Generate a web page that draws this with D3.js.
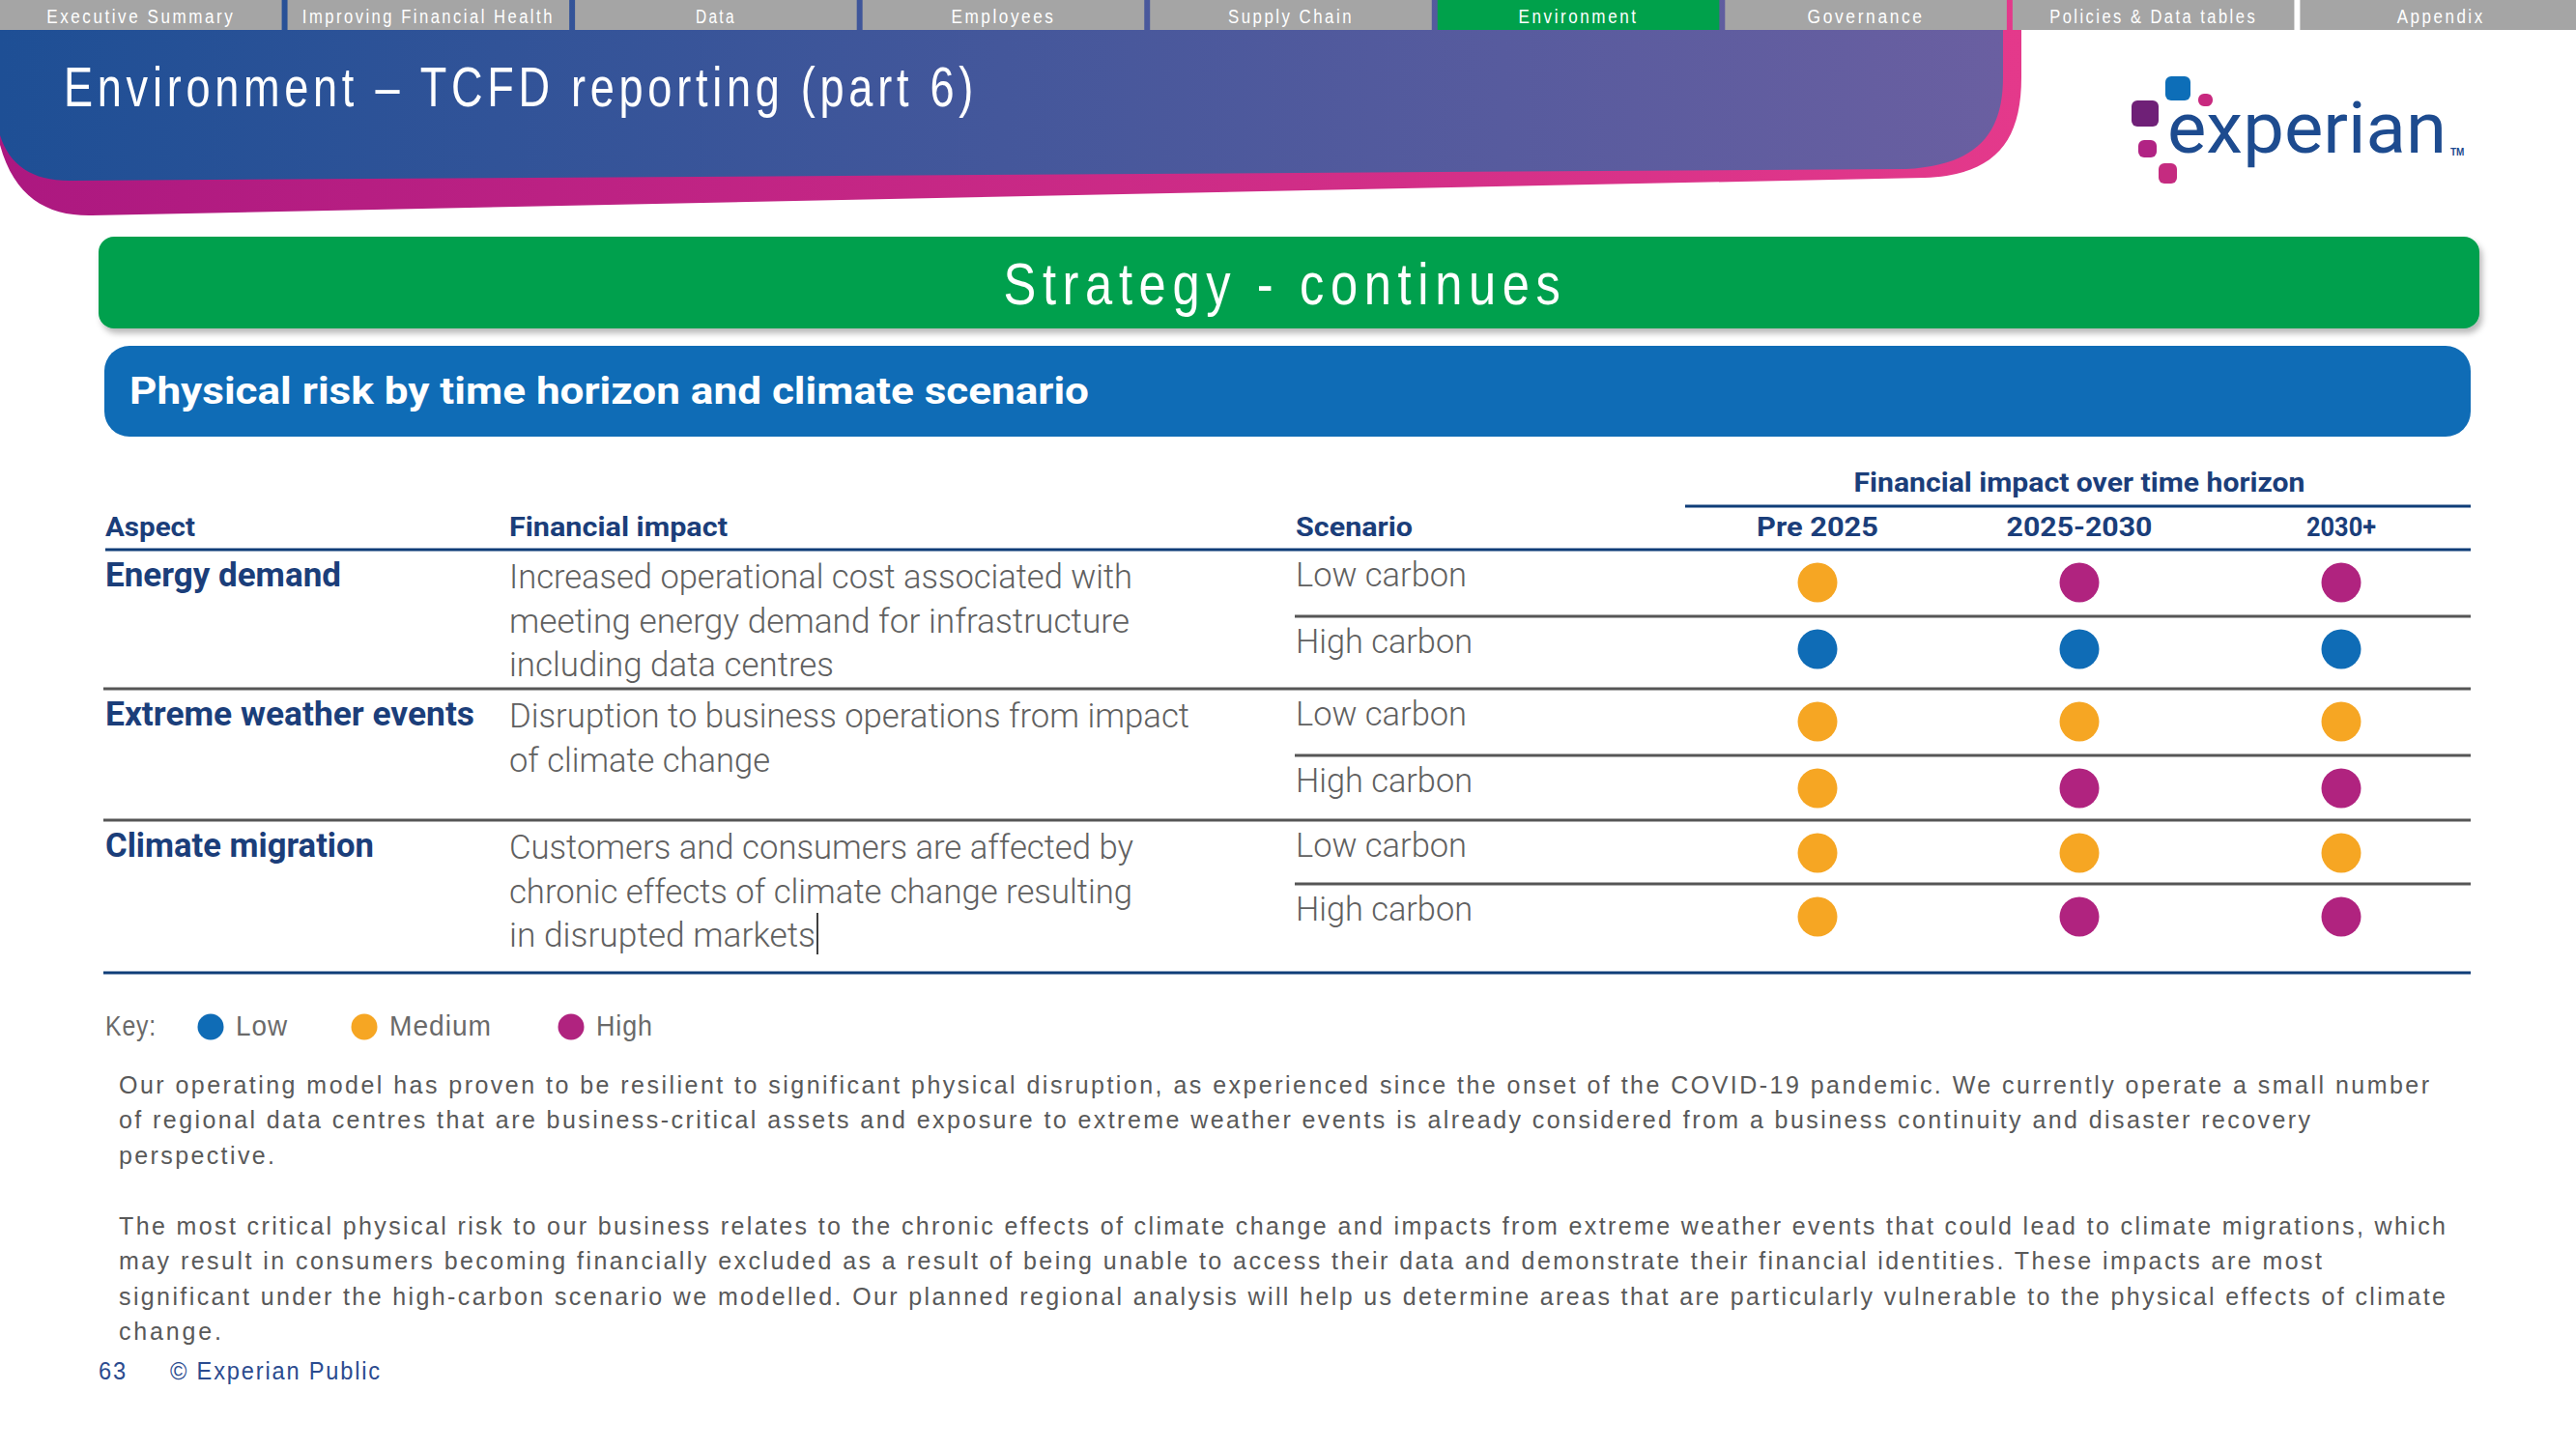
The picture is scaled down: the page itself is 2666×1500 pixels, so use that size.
<!DOCTYPE html>
<html><head><meta charset="utf-8">
<script src="https://cdn.jsdelivr.net/npm/d3@7/dist/d3.min.js"></script>
<style>
body{margin:0;background:#fff;}
svg{display:block;}
</style>
</head><body><div id="chart"></div>
<script>
// ---------------- DATA ----------------
const tabs = ["Executive Summary","Improving Financial Health","Data","Employees","Supply Chain","Environment","Governance","Policies & Data tables","Appendix"];
const activeTab = "Environment";
const pageTitle = "Environment \u2013 TCFD reporting (part 6)";
const sectionTitle = "Strategy - continues";
const tableTitle = "Physical risk by time horizon and climate scenario";
const columnHeaders = ["Aspect","Financial impact","Scenario"];
const horizonTitle = "Financial impact over time horizon";
const horizons = ["Pre 2025","2025-2030","2030+"];
const aspects = ["Energy demand","Extreme weather events","Climate migration"];
const impacts = [
  ["Increased operational cost associated with","meeting energy demand for infrastructure","including data centres"],
  ["Disruption to business operations from impact","of climate change"],
  ["Customers and consumers are affected by","chronic effects of climate change resulting","in disrupted markets"]
];
const scenarios = ["Low carbon","High carbon"];
const levels = ["Low","Medium","High"];
// one row per aspect x scenario, values per horizon
const ratings = [
  ["Medium","High","High"],
  ["Low","Low","Low"],
  ["Medium","Medium","Medium"],
  ["Medium","High","High"],
  ["Medium","Medium","Medium"],
  ["Medium","High","High"]
];
const keyLabel = "Key:";
const paragraphs = [
  ["Our operating model has proven to be resilient to significant physical disruption, as experienced since the onset of the COVID-19 pandemic. We currently operate a small number",
   "of regional data centres that are business-critical assets and exposure to extreme weather events is already considered from a business continuity and disaster recovery",
   "perspective."],
  ["The most critical physical risk to our business relates to the chronic effects of climate change and impacts from extreme weather events that could lead to climate migrations, which",
   "may result in consumers becoming financially excluded as a result of being unable to access their data and demonstrate their financial identities. These impacts are most",
   "significant under the high-carbon scenario we modelled. Our planned regional analysis will help us determine areas that are particularly vulnerable to the physical effects of climate",
   "change."]
];
const pageNumber = "63";
const footerText = "\u00a9 Experian Public";
const logoText = "experian";

// ---------------- STYLE / LAYOUT ----------------
const W = 2666, H = 1500;
const NAVY = "#1b3e7a", GREY_TXT = "#606060", LINE_GREY = "#565656";
const levelColor = d3.scaleOrdinal().domain(levels).range(["#0f6cb6","#f6a623","#b0237f"]);
const textW = { // measured text widths for fitting
  "Executive Summary":195,"Improving Financial Health":261,"Data":42,"Employees":108,"Supply Chain":130,
  "Environment":124,"Governance":121,"Policies & Data tables":215,"Appendix":91,
  "Aspect":93,"Financial impact":226,"Scenario":121,"Financial impact over time horizon":467,
  "Pre 2025":126,"2025-2030":151,"2030+":72,"Low carbon":177,"High carbon":183,
  "Energy demand":244,"Extreme weather events":382,"Climate migration":278,
  "Increased operational cost associated with":645,"meeting energy demand for infrastructure":642,"including data centres":336,
  "Disruption to business operations from impact":704,"of climate change":270,
  "Customers and consumers are affected by":646,"chronic effects of climate change resulting":645,"in disrupted markets":317,
  "Key:":53,"Low":54,"Medium":106,"High":59
};
const paraW = [[2392,2269,162],[2409,2281,2409,107]];

const FONT_SANS = "'Liberation Sans', Arial, sans-serif";
const FONT_TBL = "Roboto, 'Noto Sans', sans-serif";

function fit(sel, w, adj) {
  if (w) sel.attr("textLength", w).attr("lengthAdjust", adj || "spacingAndGlyphs");
  return sel;
}

const svg = d3.select("#chart").append("svg").attr("width", W).attr("height", H).attr("viewBox",[0,0,W,H]);
const defs = svg.append("defs");
const gBlue = defs.append("linearGradient").attr("id","gBlue").attr("x1","0").attr("x2","1").attr("y1","0").attr("y2","0");
gBlue.append("stop").attr("offset","0").attr("stop-color","#1e4f95");
gBlue.append("stop").attr("offset","1").attr("stop-color","#6a5fa1");
const gPink = defs.append("linearGradient").attr("id","gPink").attr("x1","0").attr("x2","1").attr("y1","0").attr("y2","0");
gPink.append("stop").attr("offset","0").attr("stop-color","#ac1880");
gPink.append("stop").attr("offset","1").attr("stop-color","#e4398b");
const sh = defs.append("filter").attr("id","shadow").attr("x","-5%").attr("y","-20%").attr("width","110%").attr("height","150%");
sh.append("feDropShadow").attr("dx",3).attr("dy",5).attr("stdDeviation",3).attr("flood-color","#000").attr("flood-opacity",0.28);

// header shapes
svg.append("path").attr("fill","url(#gPink)")
  .attr("d","M0,0 L2092,0 L2092,80 C2092,150 2062,181 1992,184 L95,223 C50,224 15,205 0,150 Z");
svg.append("path").attr("fill","url(#gBlue)")
  .attr("d","M0,0 L2073,0 L2073,80 C2073,140 2045,171 1972,175 L75,187 C35,188 10,172 0,140 Z");

// tabs
const tabX = d3.scaleBand().domain(tabs).range([0, W + 6]).paddingInner(0.02);
const tabG = svg.append("g").selectAll("g").data(tabs).join("g")
  .attr("transform", d => `translate(${tabX(d)},0)`);
tabG.append("rect").attr("width", tabX.bandwidth()).attr("height", 31)
  .attr("fill", d => d === activeTab ? "#00a14b" : "#a5a5a5");
tabG.append("text").attr("x", tabX.bandwidth()/2).attr("y", 24).attr("text-anchor","middle")
  .attr("fill","#fff").style("font-family", FONT_SANS).style("font-size","20px").style("letter-spacing","3px")
  .text(d => d).each(function(d){ fit(d3.select(this), textW[d]); });

// page title
fit(svg.append("text").attr("x",66).attr("y",110).attr("fill","#fff")
  .style("font-family", FONT_SANS).style("font-size","57px").style("letter-spacing","6px").text(pageTitle), 946);

// logo
const logo = svg.append("g");
const logoDots = [
  {x:2241,y:79,w:26,h:25,c:"#0d6eb8"},
  {x:2275,y:97,w:15,h:13,c:"#c8297f"},
  {x:2206,y:104,w:28,h:27,c:"#6f2077"},
  {x:2213,y:145,w:19,h:18,c:"#b12384"},
  {x:2234,y:169,w:19,h:21,c:"#c52b80"}
];
logo.selectAll("rect").data(logoDots).join("rect")
  .attr("x",d=>d.x).attr("y",d=>d.y).attr("width",d=>d.w).attr("height",d=>d.h)
  .attr("rx",6).attr("fill",d=>d.c);
fit(logo.append("text").attr("x",2243).attr("y",158).attr("fill","#1d4b8f")
  .style("font-family", FONT_TBL).style("font-size","75px").text(logoText), 289);
logo.append("text").attr("x",2536).attr("y",161).attr("fill","#1d4b8f")
  .style("font-family", FONT_SANS).style("font-size","10px").style("font-weight","bold").text("TM");

// green section banner
svg.append("rect").attr("x",102).attr("y",245).attr("width",2464).attr("height",95).attr("rx",16)
  .attr("fill","#00a04e").attr("filter","url(#shadow)");
fit(svg.append("text").attr("x",1330).attr("y",315).attr("text-anchor","middle").attr("fill","#fff")
  .style("font-family", FONT_SANS).style("font-size","61px").style("letter-spacing","8px").text(sectionTitle), 583);

// blue table banner
svg.append("rect").attr("x",108).attr("y",358).attr("width",2449).attr("height",94).attr("rx",26)
  .attr("fill","#0f6cb6");
fit(svg.append("text").attr("x",134).attr("y",418).attr("fill","#fff")
  .style("font-family", FONT_TBL).style("font-size","38px").style("font-weight","bold").text(tableTitle), 993);

// ---------------- TABLE ----------------
const colX = {aspect:109, impact:527, scenario:1341};
const tableRight = 2557;
const x = d3.scalePoint().domain(horizons).range([1881, 2423]);
const rowTop = d3.scaleOrdinal().domain(d3.range(ratings.length)).range([569,638,713,782,849,915]);
const tableBottom = 1007;
const tbl = svg.append("g").style("font-family", FONT_TBL);

// header
fit(tbl.append("text").attr("x", (x.range()[0]+x.range()[1])/2).attr("y",509).attr("text-anchor","middle")
  .attr("fill",NAVY).style("font-size","27px").style("font-weight","bold").text(horizonTitle), textW[horizonTitle]);
tbl.append("line").attr("x1",1744).attr("x2",tableRight).attr("y1",524).attr("y2",524)
  .attr("stroke","#0f3d78").attr("stroke-width",3);
tbl.selectAll("text.colh").data(columnHeaders).join("text").attr("class","colh")
  .attr("x",(d,i)=>[colX.aspect,colX.impact,colX.scenario][i]).attr("y",555)
  .attr("fill",NAVY).style("font-size","27px").style("font-weight","bold")
  .text(d=>d).each(function(d){ fit(d3.select(this), textW[d]); });
tbl.selectAll("text.hor").data(horizons).join("text").attr("class","hor")
  .attr("x",d=>x(d)).attr("y",555).attr("text-anchor","middle")
  .attr("fill",NAVY).style("font-size","27px").style("font-weight","bold")
  .text(d=>d).each(function(d){ fit(d3.select(this), textW[d]); });
tbl.append("line").attr("x1",colX.aspect).attr("x2",tableRight).attr("y1",569).attr("y2",569)
  .attr("stroke","#0f3d78").attr("stroke-width",3);

// aspect groups
aspects.forEach((a, gi) => {
  const top = rowTop(gi*2);
  tbl.append("text").attr("x",colX.aspect).attr("y",top+38).attr("fill",NAVY)
    .style("font-size","35px").style("font-weight","bold").text(a)
    .call(s => fit(s, textW[a]));
  impacts[gi].forEach((line, li) => {
    tbl.append("text").attr("x",colX.impact).attr("y",top+40+li*45.5).attr("fill",GREY_TXT)
      .style("font-size","35px").style("font-weight","300").text(line)
      .call(s => fit(s, textW[line]));
  });
  if (gi > 0) {
    tbl.append("line").attr("x1",colX.aspect-2).attr("x2",tableRight).attr("y1",top).attr("y2",top)
      .attr("stroke",LINE_GREY).attr("stroke-width",3);
  }
});
// scenario rows
ratings.forEach((r, ri) => {
  const top = rowTop(ri);
  const sc = scenarios[ri % 2];
  tbl.append("text").attr("x",colX.scenario).attr("y",top+38).attr("fill",GREY_TXT)
    .style("font-size","35px").style("font-weight","300").text(sc)
    .call(s => fit(s, textW[sc]));
  if (ri % 2 === 1) {
    tbl.append("line").attr("x1",colX.scenario-1).attr("x2",tableRight).attr("y1",top).attr("y2",top)
      .attr("stroke",LINE_GREY).attr("stroke-width",3);
  }
  tbl.selectAll(null).data(r.map((v,i)=>({h:horizons[i], v}))).join("circle")
    .attr("cx",d=>x(d.h)).attr("cy",top+34).attr("r",20.5).attr("fill",d=>levelColor(d.v));
});
tbl.append("line").attr("x1",colX.aspect-2).attr("x2",tableRight).attr("y1",tableBottom).attr("y2",tableBottom)
  .attr("stroke","#0f3d78").attr("stroke-width",3);
// text cursor after last impact line
tbl.append("line").attr("x1",846).attr("x2",846).attr("y1",945).attr("y2",988).attr("stroke","#000").attr("stroke-width",1.5);

// ---------------- KEY ----------------
const keyG = svg.append("g").style("font-family", FONT_SANS).style("font-size","29px").style("letter-spacing","1px");
fit(keyG.append("text").attr("x",109).attr("y",1072).attr("fill","#6a6a6a").text(keyLabel), textW[keyLabel]);
const keyX = d3.scaleOrdinal().domain(levels).range([218, 377, 591]);
const kg = keyG.selectAll("g").data(levels).join("g");
kg.append("circle").attr("cx",d=>keyX(d)).attr("cy",1063).attr("r",13.5).attr("fill",d=>levelColor(d));
kg.append("text").attr("x",d=>keyX(d)+26).attr("y",1072).attr("fill","#6a6a6a")
  .text(d=>d).each(function(d){ fit(d3.select(this), textW[d]); });

// ---------------- PARAGRAPHS ----------------
const paraTop = [1132, 1278];
const paraG = svg.append("g").style("font-family", FONT_SANS).style("font-size","25px")
  .style("letter-spacing","1px").attr("fill","#595959");
paragraphs.forEach((p, pi) => {
  p.forEach((line, li) => {
    paraG.append("text").attr("x",123).attr("y",paraTop[pi] + li*36.3).text(line)
      .call(s => fit(s, paraW[pi][li], "spacing"));
  });
});

// footer
const foot = svg.append("g").style("font-family", FONT_SANS).style("font-size","26px")
  .style("letter-spacing","2px").attr("fill","#2b4b8f");
fit(foot.append("text").attr("x",102).attr("y",1428).text(pageNumber), 30);
fit(foot.append("text").attr("x",176).attr("y",1428).text(footerText), 219);
</script>
</body></html>
